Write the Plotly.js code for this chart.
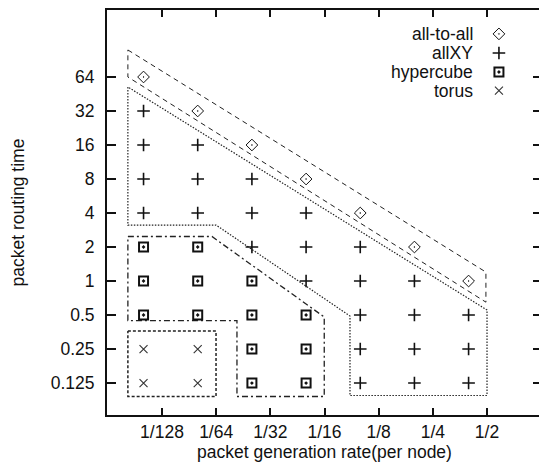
<!DOCTYPE html>
<html>
<head>
<meta charset="utf-8">
<script src="https://cdn.plot.ly/plotly-3.0.1.min.js"></script>
<style>
  html, body { margin: 0; padding: 0; background: #fff; overflow: hidden; }
  #chart { width: 543px; height: 462px; }
</style>
</head>
<body>
<div id="chart"></div>
<script>
// Axis ticks (log2-spaced rates and routing times)
const rateTicks = [1/128, 1/64, 1/32, 1/16, 1/8, 1/4, 1/2];
const rateTickText = ['1/128', '1/64', '1/32', '1/16', '1/8', '1/4', '1/2'];
const timeTicks = [0.125, 0.25, 0.5, 1, 2, 4, 8, 16, 32, 64];
const timeTickText = ['0.125', '0.25', '0.5', '1', '2', '4', '8', '16', '32', '64'];

// Measured points per network
const allToAllRate = [0.00617, 0.01234, 0.02469, 0.04938, 0.09875, 0.1975, 0.395];
const allToAllTime = [64, 32, 16, 8, 4, 2, 1];

const allXYRate = [0.00617, 0.00617, 0.00617, 0.00617,
                   0.01234, 0.01234, 0.01234,
                   0.02469, 0.02469, 0.02469,
                   0.04938, 0.04938, 0.04938,
                   0.09875, 0.09875, 0.09875, 0.09875, 0.09875,
                   0.1975, 0.1975, 0.1975, 0.1975,
                   0.395, 0.395, 0.395];
const allXYTime = [32, 16, 8, 4,
                   16, 8, 4,
                   8, 4, 2,
                   4, 2, 1,
                   2, 1, 0.5, 0.25, 0.125,
                   1, 0.5, 0.25, 0.125,
                   0.5, 0.25, 0.125];

const hypercubeRate = [0.00617, 0.00617, 0.00617,
                       0.01234, 0.01234, 0.01234,
                       0.02469, 0.02469, 0.02469, 0.02469,
                       0.04938, 0.04938, 0.04938];
const hypercubeTime = [2, 1, 0.5,
                       2, 1, 0.5,
                       1, 0.5, 0.25, 0.125,
                       0.5, 0.25, 0.125];

const torusRate = [0.00617, 0.00617, 0.01234, 0.01234];
const torusTime = [0.25, 0.125, 0.25, 0.125];

// Region outlines enclosing each network's points
const allToAllRegionRate = [0.00505, 0.493, 0.493, 0.00505, 0.00505];
const allToAllRegionTime = [111, 1.2, 0.65, 64, 111];

const allXYRegionRate = [0.00505, 0.00505, 0.0156, 0.0866, 0.0866, 0.5, 0.5, 0.00505];
const allXYRegionTime = [52.2, 3.13, 3.13, 0.49, 0.097, 0.097, 0.554, 52.2];

const hypercubeRegionRate = [0.00505, 0.01481, 0.0623, 0.0623, 0.02039, 0.02039, 0.00505, 0.00505];
const hypercubeRegionTime = [2.478, 2.478, 0.48, 0.095, 0.095, 0.4468, 0.4468, 2.478];

const torusRegionRate = [0.00505, 0.0156, 0.0156, 0.00505, 0.00505];
const torusRegionTime = [0.3608, 0.3608, 0.095, 0.095, 0.3608];

const seriesNames = ['all-to-all', 'allXY', 'hypercube', 'torus'];

const INK = '#111';
const FONT = 'Liberation Sans, Arial, Helvetica, sans-serif';

const outline = (x, y, dash, width) => ({
  type: 'scatter', mode: 'lines', x, y, showlegend: false, hoverinfo: 'skip',
  line: { color: '#222', width: width, dash: dash }
});

const markerStyles = [
  { symbol: 'diamond-open-dot', size: 9, color: INK, line: { width: 1, color: INK } },
  { symbol: 'cross-thin-open', size: 9, color: INK, line: { width: 1.6, color: INK } },
  { symbol: 'square-open-dot', size: 9, color: INK, line: { width: 2, color: INK } },
  { symbol: 'x-thin-open', size: 8, color: '#333', line: { width: 1.1, color: '#333' } }
];

const pts = (x, y, i) => ({
  type: 'scatter', mode: 'markers', x, y, name: seriesNames[i], showlegend: false,
  marker: markerStyles[i]
});

// Legend key symbols drawn on an overlay axis spanning [0,1]
const keyY = [0.941, 0.894, 0.847, 0.801];
const keyX = 0.901;
const keyTraces = markerStyles.map((m, i) => ({
  type: 'scatter', mode: 'markers', x: [keyX], y: [keyY[i]],
  xaxis: 'x2', yaxis: 'y2', showlegend: false, hoverinfo: 'skip', marker: m
}));

const data = [
  outline(allToAllRegionRate, allToAllRegionTime, '5px,4px', 1),
  outline(allXYRegionRate, allXYRegionTime, '1.5px,1.5px', 1.2),
  outline(hypercubeRegionRate, hypercubeRegionTime, '6px,3px,2px,3px', 1.3),
  outline(torusRegionRate, torusRegionTime, '3px,2px', 1.5),
  pts(allToAllRate, allToAllTime, 0),
  pts(allXYRate, allXYTime, 1),
  pts(hypercubeRate, hypercubeTime, 2),
  pts(torusRate, torusTime, 3),
  ...keyTraces
];

const L2 = Math.log10(2);

const layout = {
  width: 543, height: 462,
  margin: { l: 107, r: 1, t: 10, b: 47 },
  paper_bgcolor: '#fff', plot_bgcolor: '#fff',
  font: { family: FONT, size: 17.5, color: INK },
  showlegend: false,
  xaxis: {
    type: 'log', range: [-8.015 * L2, 0.015 * L2],
    tickvals: rateTicks, ticktext: rateTickText,
    ticks: 'inside', ticklen: 7, tickwidth: 2, tickcolor: INK,
    showline: true, linewidth: 2, linecolor: INK, mirror: 'ticks',
    showgrid: false, zeroline: false,
    ticklabelstandoff: 0,
    title: { text: 'packet generation rate(per node)', standoff: 10, font: { size: 17.5 } }
  },
  yaxis: {
    type: 'log', range: [-3.94 * L2, 7.97 * L2],
    tickvals: timeTicks, ticktext: timeTickText,
    ticks: 'inside', ticklen: 9, tickwidth: 2, tickcolor: INK,
    showline: true, linewidth: 2, linecolor: INK, mirror: 'ticks',
    showgrid: false, zeroline: false,
    ticklabelstandoff: 7,
    title: { text: 'packet routing time', standoff: 22, font: { size: 17.5 } }
  },
  xaxis2: { overlaying: 'x', range: [0, 1], visible: false, fixedrange: true },
  yaxis2: { overlaying: 'y', range: [0, 1], visible: false, fixedrange: true },
  annotations: seriesNames.map((t, i) => ({
    xref: 'paper', yref: 'paper', x: 0.846, y: keyY[i],
    xanchor: 'right', yanchor: 'middle', showarrow: false,
    text: t, font: { size: 17.5, color: INK, family: FONT }
  }))
};

Plotly.newPlot('chart', data, layout, { staticPlot: true, displayModeBar: false });
</script>
</body>
</html>
